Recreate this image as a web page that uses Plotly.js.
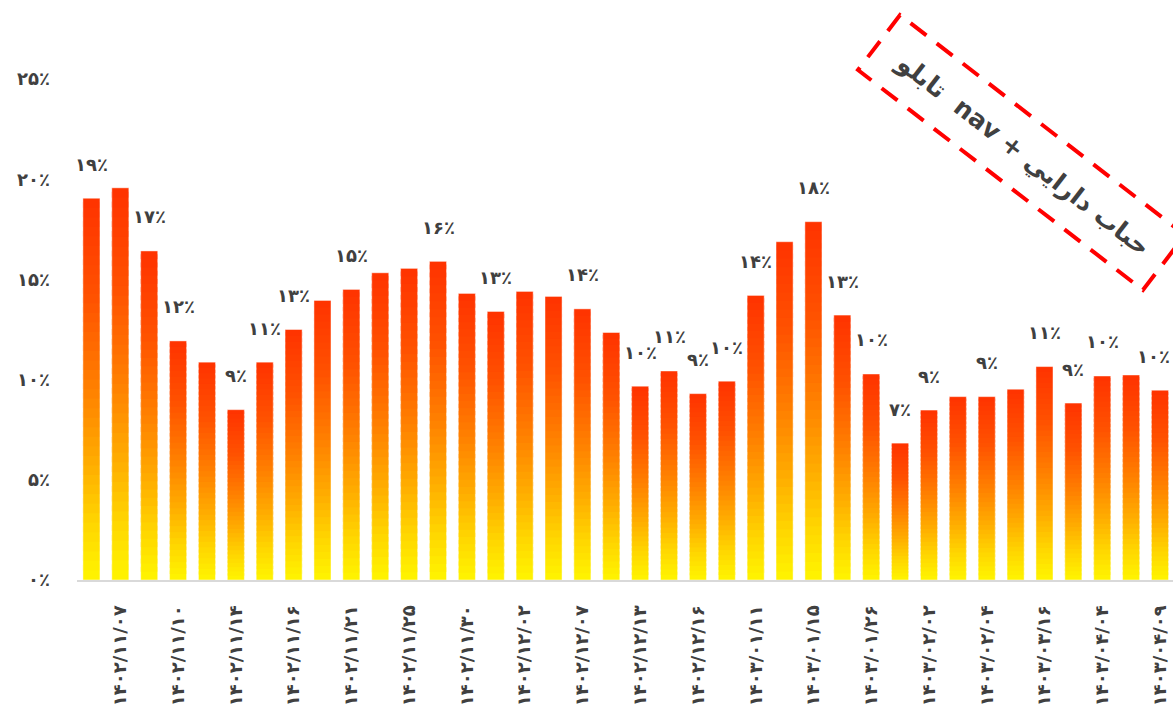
<!DOCTYPE html>
<html>
<head>
<meta charset="utf-8">
<script src="https://cdn.plot.ly/plotly-3.0.1.min.js"></script>
<style>html,body{margin:0;padding:0;background:#fff;}</style>
</head>
<body>
<div id="chart" style="width:1173px;height:717px;"></div>
<script>
// ---- data (percent) ----
const barValues = [19.05, 19.57, 16.42, 11.93, 10.87, 8.5, 10.87, 12.5, 13.95, 14.5,
                   15.33, 15.55, 15.9, 14.3, 13.4, 14.4, 14.15, 13.53, 12.35, 9.67,
                   10.43, 9.3, 9.92, 14.2, 16.88, 17.88, 13.22, 10.28, 6.83, 8.48,
                   9.15, 9.15, 9.52, 10.65, 8.83, 10.18, 10.23, 9.47];
const barLabels = ['۱۹٪','','۱۷٪','۱۲٪','','۹٪','۱۱٪','۱۳٪','','۱۵٪',
                   '','','۱۶٪','','۱۳٪','','','۱۴٪','','۱۰٪',
                   '۱۱٪','۹٪','۱۰٪','۱۴٪','','۱۸٪','۱۳٪','۱۰٪','۷٪','۹٪',
                   '','۹٪','','۱۱٪','۹٪','۱۰٪','','۱۰٪'];
const tickIndex = [1,3,5,7,9,11,13,15,17,19,21,23,25,27,29,31,33,35,37];
const tickDates = ['۱۴۰۲/۱۱/۰۷','۱۴۰۲/۱۱/۱۰','۱۴۰۲/۱۱/۱۴','۱۴۰۲/۱۱/۱۶','۱۴۰۲/۱۱/۲۱',
                   '۱۴۰۲/۱۱/۲۵','۱۴۰۲/۱۱/۳۰','۱۴۰۲/۱۲/۰۲','۱۴۰۲/۱۲/۰۷','۱۴۰۲/۱۲/۱۳',
                   '۱۴۰۲/۱۲/۱۶','۱۴۰۳/۰۱/۱۱','۱۴۰۳/۰۱/۱۵','۱۴۰۳/۰۱/۲۶','۱۴۰۳/۰۲/۰۲',
                   '۱۴۰۳/۰۲/۰۴','۱۴۰۳/۰۳/۱۶','۱۴۰۳/۰۴/۰۴','۱۴۰۳/۰۴/۰۹'];
const yTickValues = [0, 5, 10, 15, 20, 25];
const yTickText = ['۰٪','۵٪','۱۰٪','۱۵٪','۲۰٪','۲۵٪'];
const calloutText = 'تابلو  nav + حباب دارايي';

// ---- style ----
const gradStops = [[0,[255,245,0]],[0.15,[255,213,0]],[0.3,[255,174,0]],[0.5,[255,128,0]],[0.75,[255,80,0]],[1,[255,51,0]]];
function gradColor(f){
  for(let i=1;i<gradStops.length;i++){
    if(f<=gradStops[i][0]){
      const a=gradStops[i-1], b=gradStops[i];
      const t=(f-a[0])/(b[0]-a[0]);
      const c=a[1].map((v,j)=>Math.round(v+(b[1][j]-v)*t));
      return 'rgb('+c.join(',')+')';
    }
  }
  return 'rgb(255,51,0)';
}
const lblFont = {family:'DejaVu Sans', size:18, color:'#404040', weight:700};
const tickFont = {family:'DejaVu Sans', size:18, color:'#404040', weight:700};
const N = 40;
const BW = 0.59;
const xs = barValues.map((_, i) => i);

const traces = [];
for (let k = 0; k < N; k++) {
  const f = (k + 0.5) / N;
  const ext = k < N - 1 ? 1.6 : 1;
  traces.push({
    type:'bar', x: xs,
    y: barValues.map(v => v / N * ext),
    base: barValues.map(v => v * k / N),
    width: BW,
    marker:{color: gradColor(f), line:{width:0}},
    hoverinfo:'skip', showlegend:false
  });
}
traces.push({
  type:'bar', x: xs, y: barValues, width: BW,
  marker:{color:'rgba(0,0,0,0)', line:{color:'rgba(255,255,255,0.45)', width:1}},
  hoverinfo:'skip', showlegend:false
});

const annotations = [];
barLabels.forEach((t, i) => {
  if (t) annotations.push({x:i, y:barValues[i], xref:'x', yref:'y', text:t, showarrow:false,
    yanchor:'middle', xanchor: i === barLabels.length - 1 ? 'right' : 'center',
    xshift: i === barLabels.length - 1 ? 12 : 0, yshift:34, font:lblFont});
});
annotations.push({xref:'paper', yref:'paper', x:0.863, y:0.848, xanchor:'center', yanchor:'middle',
  text:calloutText, textangle:37.7,
  showarrow:false, font:{family:'DejaVu Sans', size:25, color:'#404040', weight:700}});

const layout = {
  width:1173, height:717,
  margin:{l:77, r:0, t:79, b:137, pad:0},
  paper_bgcolor:'#ffffff', plot_bgcolor:'#ffffff',
  barmode:'overlay',
  showlegend:false,
  xaxis:{range:[-0.5, 37.45], tickmode:'array', tickvals:tickIndex, ticktext:tickDates,
    tickangle:-90, tickfont:tickFont, showgrid:false, zeroline:false, showline:true,
    linecolor:'#d9d9d9', linewidth:2, ticks:'', ticklabelstandoff:16, automargin:false, fixedrange:true},
  yaxis:{range:[0, 25], tickmode:'array', tickvals:yTickValues, ticktext:yTickText,
    tickfont:tickFont, showgrid:false, zeroline:false, showline:false, ticks:'',
    ticklabelstandoff:26, automargin:false, fixedrange:true},
  annotations: annotations,
  shapes:[{type:'path', xref:'paper', yref:'paper', layer:'above',
    path:'M0.7509,1.1277 L0.7126,1.0180 L0.9726,0.5788 L1.0109,0.6886 Z',
    line:{color:'#FF0000', width:4, dash:'20px,13px'}}]
};

Plotly.newPlot('chart', traces, layout, {staticPlot:true, displayModeBar:false});
</script>
</body>
</html>
